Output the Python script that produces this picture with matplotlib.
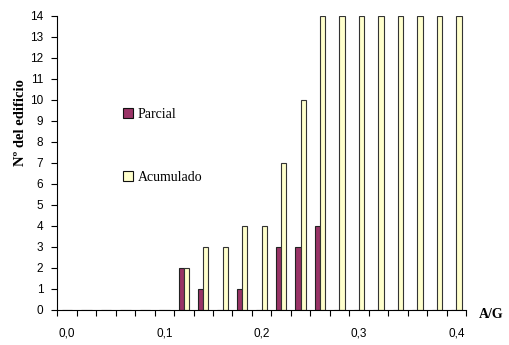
import matplotlib
matplotlib.use("Agg")
import matplotlib.pyplot as plt
from matplotlib.patches import Patch
import numpy as np

categories = ["0,0", "0,02", "0,04", "0,06", "0,08", "0,1", "0,12", "0,14", "0,16", "0,18",
              "0,2", "0,22", "0,24", "0,26", "0,28", "0,3", "0,32", "0,34", "0,36", "0,38", "0,4"]
parcial = [0, 0, 0, 0, 0, 0, 2, 1, 0, 1, 0, 3, 3, 4, 0, 0, 0, 0, 0, 0, 0]
acumulado = [0, 0, 0, 0, 0, 0, 2, 3, 3, 4, 4, 7, 10, 14, 14, 14, 14, 14, 14, 14, 14]
shown_labels = ["0,0", "0,1", "0,2", "0,3", "0,4"]

fig = plt.figure(figsize=(5.09, 3.45), dpi=100)
ax = fig.add_axes([0.1125, 0.1023, 0.803, 0.852])

x = np.arange(len(categories))
w = 0.27
ax.bar(x - w / 2, parcial, width=w, color="#993366", edgecolor="#222222", linewidth=0.8, label="Parcial")
ax.bar(x + w / 2, acumulado, width=w, color="#FFFFCC", edgecolor="#333333", linewidth=0.8, label="Acumulado")

ax.set_xlim(-0.5, len(categories) - 0.5)
ax.set_ylim(0, 14)
ax.set_yticks(range(0, 15))
ax.tick_params(axis="y", length=4, width=0.8, pad=6, labelsize=8.5)

major_pos = [i for i, c in enumerate(categories) if c in shown_labels]
ax.set_xticks(major_pos)
ax.set_xticklabels([categories[i] for i in major_pos])
ax.set_xticks(np.arange(-0.5, len(categories), 1.0), minor=True)
ax.tick_params(axis="x", which="major", length=0, pad=13, labelsize=8.5)
ax.tick_params(axis="x", which="minor", length=4, width=0.8)

for lab in ax.get_xticklabels() + ax.get_yticklabels():
    lab.set_family("Liberation Sans")

ax.spines["top"].set_visible(False)
ax.spines["right"].set_visible(False)
ax.spines["left"].set_linewidth(0.8)
ax.spines["bottom"].set_linewidth(0.8)

fig.text(21 / 509, 1 - 123 / 345, "Nº del edificio", rotation=90, ha="center", va="center",
         family="Liberation Serif", fontweight="bold", fontsize=10.5)
fig.text(491 / 509, 1 - 315 / 345, "A/G", ha="center", va="center",
         family="Liberation Serif", fontweight="bold", fontsize=10)

handles = [Patch(facecolor="#993366", edgecolor="#111111", linewidth=0.8),
           Patch(facecolor="#FFFFCC", edgecolor="#111111", linewidth=0.8)]
ax.legend(handles, ["Parcial", "Acumulado"], loc="upper left", bbox_to_anchor=(0.13, 0.728),
          frameon=False, labelspacing=3.6, handlelength=0.75, handleheight=0.75,
          handletextpad=0.3, prop={"family": "Liberation Serif", "size": 10})

fig.savefig("out.png", dpi=100)
